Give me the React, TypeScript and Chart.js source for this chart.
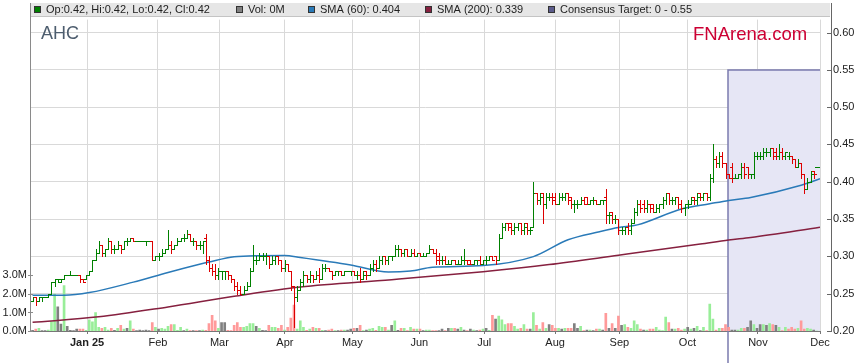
import React, { useEffect, useRef } from "react";
import { Chart, registerables } from "chart.js";

Chart.register(...registerables);

const FONT = "Arial, 'Liberation Sans', sans-serif";

// ---------- data ----------
const ticker = "AHC";
const monthLabels = ["Jan 25", "Feb", "Mar", "Apr", "May", "Jun", "Jul", "Aug", "Sep", "Oct", "Nov", "Dec"];
const monthTickIdx = [17.3, 39.8, 59.3, 80.1, 101.5, 122.8, 143.4, 165.9, 186.3, 207.9, 230.3, 250];
const priceTicks = [0.2, 0.25, 0.3, 0.35, 0.4, 0.45, 0.5, 0.55, 0.6];
const volumeTicks = [0, 1, 2, 3];

// [open, high, low, close] per trading day
const priceBars: number[][] = [
  [0.24,0.245,0.24,0.245],[0.245,0.245,0.235,0.24],[0.24,0.245,0.24,0.245],[0.245,0.245,0.24,0.245],[0.245,0.245,0.245,0.245],
  [0.245,0.25,0.245,0.25],[0.25,0.265,0.25,0.265],[0.265,0.27,0.26,0.27],[0.27,0.27,0.265,0.27],[0.265,0.27,0.265,0.27],
  [0.27,0.275,0.27,0.275],[0.275,0.275,0.275,0.275],[0.275,0.28,0.275,0.275],[0.275,0.275,0.275,0.275],[0.275,0.275,0.275,0.275],
  [0.275,0.275,0.265,0.27],[0.27,0.27,0.265,0.265],[0.27,0.275,0.27,0.275],[0.275,0.28,0.275,0.28],[0.28,0.295,0.28,0.295],
  [0.295,0.31,0.295,0.305],[0.305,0.32,0.305,0.315],[0.315,0.315,0.3,0.305],[0.305,0.31,0.3,0.31],[0.31,0.325,0.31,0.32],
  [0.32,0.32,0.305,0.31],[0.31,0.315,0.305,0.31],[0.31,0.32,0.31,0.315],[0.315,0.315,0.305,0.31],[0.31,0.32,0.31,0.32],
  [0.32,0.325,0.315,0.32],[0.32,0.325,0.32,0.325],[0.325,0.325,0.32,0.32],[0.32,0.32,0.32,0.32],[0.32,0.32,0.32,0.32],
  [0.32,0.32,0.32,0.32],[0.32,0.32,0.315,0.32],[0.32,0.32,0.32,0.32],[0.32,0.32,0.295,0.295],[0.295,0.3,0.295,0.3],
  [0.3,0.305,0.295,0.3],[0.3,0.31,0.3,0.305],[0.305,0.31,0.305,0.31],[0.31,0.335,0.31,0.315],[0.315,0.32,0.305,0.31],
  [0.31,0.315,0.31,0.315],[0.315,0.325,0.315,0.32],[0.32,0.325,0.32,0.325],[0.325,0.33,0.32,0.325],[0.325,0.335,0.325,0.33],
  [0.33,0.33,0.32,0.32],[0.32,0.325,0.315,0.32],[0.32,0.32,0.31,0.315],[0.315,0.32,0.31,0.315],[0.315,0.32,0.305,0.32],
  [0.325,0.33,0.29,0.295],[0.295,0.3,0.28,0.285],[0.285,0.29,0.275,0.28],[0.28,0.29,0.27,0.275],[0.275,0.285,0.27,0.28],
  [0.28,0.28,0.27,0.28],[0.28,0.28,0.27,0.28],[0.28,0.28,0.27,0.275],[0.275,0.275,0.265,0.27],[0.27,0.27,0.255,0.26],
  [0.26,0.265,0.25,0.255],[0.255,0.26,0.25,0.25],[0.25,0.26,0.25,0.255],[0.255,0.265,0.255,0.26],[0.26,0.285,0.26,0.28],
  [0.28,0.315,0.28,0.295],[0.295,0.3,0.29,0.295],[0.295,0.305,0.295,0.3],[0.3,0.305,0.295,0.3],[0.3,0.305,0.29,0.3],
  [0.3,0.3,0.285,0.29],[0.29,0.3,0.29,0.295],[0.295,0.3,0.29,0.3],[0.3,0.3,0.29,0.295],[0.295,0.295,0.28,0.285],
  [0.285,0.295,0.28,0.29],[0.29,0.29,0.28,0.28],[0.28,0.28,0.255,0.26],[0.26,0.26,0.205,0.245],[0.245,0.26,0.24,0.255],
  [0.255,0.27,0.255,0.265],[0.265,0.28,0.26,0.275],[0.275,0.275,0.265,0.27],[0.27,0.28,0.265,0.275],[0.275,0.275,0.265,0.27],
  [0.27,0.28,0.27,0.275],[0.275,0.285,0.265,0.27],[0.27,0.29,0.27,0.285],[0.285,0.29,0.28,0.285],[0.285,0.285,0.28,0.28],
  [0.28,0.28,0.27,0.275],[0.275,0.28,0.275,0.28],[0.28,0.28,0.275,0.28],[0.28,0.28,0.275,0.275],[0.275,0.28,0.275,0.28],
  [0.28,0.28,0.28,0.28],[0.28,0.28,0.275,0.28],[0.28,0.28,0.275,0.275],[0.275,0.28,0.27,0.275],[0.275,0.285,0.265,0.27],
  [0.27,0.28,0.27,0.275],[0.28,0.28,0.27,0.275],[0.275,0.29,0.275,0.285],[0.285,0.295,0.28,0.29],[0.29,0.295,0.28,0.285],
  [0.285,0.3,0.285,0.295],[0.295,0.3,0.29,0.3],[0.3,0.3,0.29,0.295],[0.295,0.3,0.29,0.3],[0.3,0.3,0.295,0.3],
  [0.3,0.315,0.3,0.31],[0.31,0.315,0.3,0.31],[0.31,0.31,0.3,0.305],[0.305,0.31,0.3,0.31],[0.31,0.31,0.3,0.3],
  [0.3,0.31,0.3,0.305],[0.305,0.31,0.3,0.3],[0.3,0.305,0.3,0.305],[0.305,0.305,0.3,0.3],[0.3,0.305,0.3,0.3],
  [0.3,0.305,0.3,0.305],[0.305,0.315,0.305,0.31],[0.31,0.31,0.305,0.305],[0.305,0.31,0.29,0.295],[0.3,0.305,0.29,0.295],
  [0.295,0.3,0.29,0.295],[0.295,0.3,0.29,0.29],[0.29,0.295,0.29,0.29],[0.29,0.295,0.29,0.295],[0.295,0.295,0.29,0.29],
  [0.29,0.295,0.29,0.29],[0.29,0.3,0.29,0.295],[0.295,0.31,0.29,0.295],[0.295,0.295,0.29,0.29],[0.295,0.295,0.29,0.29],
  [0.29,0.295,0.29,0.295],[0.295,0.295,0.29,0.295],[0.295,0.3,0.29,0.29],[0.29,0.295,0.29,0.295],[0.295,0.3,0.29,0.295],
  [0.295,0.3,0.295,0.3],[0.3,0.3,0.295,0.295],[0.3,0.3,0.29,0.295],[0.295,0.33,0.295,0.325],[0.325,0.345,0.325,0.34],
  [0.34,0.345,0.335,0.345],[0.345,0.345,0.335,0.34],[0.345,0.345,0.33,0.335],[0.335,0.345,0.33,0.34],[0.34,0.345,0.335,0.345],
  [0.345,0.345,0.33,0.335],[0.335,0.345,0.33,0.34],[0.345,0.345,0.33,0.335],[0.335,0.34,0.33,0.335],[0.34,0.4,0.34,0.385],
  [0.385,0.385,0.37,0.375],[0.375,0.385,0.37,0.38],[0.385,0.385,0.345,0.37],[0.37,0.385,0.365,0.38],[0.38,0.385,0.375,0.38],
  [0.38,0.385,0.37,0.375],[0.38,0.385,0.37,0.37],[0.37,0.385,0.37,0.38],[0.38,0.385,0.375,0.38],[0.38,0.385,0.375,0.385],
  [0.385,0.385,0.37,0.375],[0.38,0.38,0.365,0.37],[0.37,0.375,0.36,0.37],[0.37,0.375,0.365,0.37],[0.37,0.38,0.37,0.375],
  [0.375,0.38,0.37,0.37],[0.38,0.38,0.37,0.37],[0.37,0.375,0.37,0.375],[0.375,0.38,0.37,0.375],[0.375,0.375,0.37,0.37],
  [0.37,0.375,0.37,0.375],[0.375,0.375,0.37,0.375],[0.38,0.39,0.345,0.355],[0.355,0.36,0.345,0.355],[0.36,0.36,0.345,0.35],
  [0.35,0.355,0.345,0.35],[0.35,0.35,0.33,0.335],[0.335,0.34,0.33,0.335],[0.335,0.34,0.33,0.34],[0.34,0.345,0.33,0.335],
  [0.335,0.35,0.33,0.345],[0.345,0.365,0.345,0.36],[0.36,0.375,0.355,0.37],[0.37,0.375,0.36,0.365],[0.37,0.375,0.36,0.365],
  [0.365,0.375,0.36,0.37],[0.37,0.37,0.36,0.365],[0.37,0.37,0.36,0.36],[0.36,0.37,0.36,0.365],[0.365,0.37,0.36,0.37],
  [0.37,0.38,0.365,0.375],[0.375,0.385,0.37,0.385],[0.385,0.385,0.37,0.375],[0.375,0.38,0.37,0.375],[0.375,0.38,0.37,0.38],
  [0.38,0.38,0.365,0.37],[0.37,0.375,0.36,0.365],[0.365,0.37,0.355,0.37],[0.37,0.375,0.365,0.37],[0.37,0.38,0.37,0.375],
  [0.38,0.38,0.37,0.375],[0.375,0.385,0.37,0.38],[0.385,0.385,0.375,0.38],[0.38,0.385,0.375,0.385],[0.385,0.385,0.375,0.38],
  [0.38,0.41,0.375,0.405],[0.405,0.45,0.4,0.43],[0.43,0.435,0.42,0.425],[0.425,0.44,0.42,0.435],[0.435,0.44,0.42,0.425],
  [0.425,0.425,0.405,0.41],[0.41,0.41,0.405,0.405],[0.42,0.425,0.4,0.405],[0.405,0.41,0.405,0.405],[0.405,0.41,0.405,0.41],
  [0.41,0.425,0.405,0.42],[0.42,0.425,0.405,0.41],[0.42,0.42,0.405,0.41],[0.41,0.41,0.405,0.41],[0.41,0.44,0.405,0.435],
  [0.435,0.44,0.43,0.435],[0.435,0.44,0.43,0.435],[0.435,0.445,0.43,0.44],[0.44,0.445,0.435,0.44],[0.44,0.445,0.435,0.445],
  [0.445,0.445,0.43,0.435],[0.44,0.445,0.43,0.435],[0.435,0.45,0.43,0.44],[0.44,0.445,0.43,0.435],[0.435,0.44,0.43,0.44],
  [0.435,0.44,0.43,0.435],[0.435,0.435,0.425,0.43],[0.43,0.43,0.42,0.42],[0.42,0.43,0.42,0.425],[0.425,0.425,0.405,0.41],
  [0.41,0.41,0.385,0.39],[0.39,0.405,0.39,0.4],[0.4,0.415,0.4,0.41],[0.415,0.415,0.405,0.41],[0.42,0.42,0.42,0.42],
];

// daily volume, millions of shares
const volumes = [
  0.03,0.1,0.15,0.02,0.02,0.05,0.5,2.0,1.3,0.37,
  2.45,0.25,0.03,0.02,0.1,0.1,0.1,0.03,0.6,0.5,
  1.0,0.2,0.15,0.2,0.05,0.15,0.03,0.15,0.3,0.1,
  0.15,0.55,0.1,0.02,0.05,0.02,0.05,0.02,0.45,0.2,
  0.1,0.15,0.1,0.25,0.35,0.35,0.03,0.2,0.02,0.1,
  0.02,0.02,0.02,0.02,0.05,0.03,0.4,0.85,0.55,0.15,
  0.45,0.45,0.03,0.02,0.3,0.45,0.2,0.2,0.25,0.4,
  0.4,0.25,0.15,0.03,0.02,0.3,0.2,0.2,0.15,0.3,
  0.05,0.2,0.7,1.4,0.1,0.55,0.2,0.03,0.1,0.2,
  0.15,0.15,0.03,0.02,0.05,0.1,0.02,0.02,0.05,0.05,
  0.05,0.1,0.15,0.15,0.3,0.02,0.05,0.1,0.15,0.03,
  0.25,0.2,0.2,0.05,0.3,0.55,0.03,0.15,0.15,0.02,
  0.2,0.1,0.1,0.1,0.02,0.05,0.05,0.02,0.02,0.02,
  0.1,0.02,0.15,0.15,0.15,0.1,0.2,0.05,0.02,0.1,
  0.05,0.02,0.05,0.1,0.15,0.03,0.85,0.65,0.8,0.6,
  0.35,0.4,0.4,0.25,0.1,0.15,0.35,0.1,0.1,1.0,
  0.3,0.1,0.45,0.15,0.35,0.3,0.15,0.15,0.1,0.15,
  0.15,0.15,0.4,0.15,0.25,0.02,0.05,0.05,0.02,0.1,
  0.1,0.05,0.95,0.15,0.4,0.15,0.8,0.3,0.35,0.2,
  0.15,0.55,0.35,0.1,0.05,0.05,0.1,0.1,0.2,0.05,
  0.02,0.75,0.45,0.1,0.1,0.15,0.05,0.1,0.2,0.1,
  0.15,0.25,0.02,0.2,0.02,1.45,0.65,0.05,0.15,0.15,
  0.35,0.2,0.05,0.05,0.05,0.15,0.15,0.2,0.55,0.35,
  0.15,0.35,0.35,0.3,0.4,0.35,0.3,0.2,0.02,0.2,
  0.1,0.2,0.1,0.15,0.55,0.1,0.15,0.1,0.05,0,
];

const sma60Idx = [0, 10, 18, 32, 43, 53, 56, 64, 72, 80, 85, 101, 113, 120, 127, 143, 159, 170, 180, 186, 192, 206, 215, 221, 228, 244, 250];
const sma60Val = [0.248, 0.248, 0.2515, 0.2655, 0.2785, 0.2895, 0.2925, 0.2995, 0.301, 0.3012, 0.2985, 0.2885, 0.279, 0.2805, 0.2855, 0.2877, 0.2997, 0.3223, 0.333, 0.3386, 0.3422, 0.3635, 0.3705, 0.375, 0.379, 0.3953, 0.404];

const sma200Idx = [0, 21, 43, 64, 85, 114, 143, 164, 186, 212, 221, 228, 250];
const sma200Val = [0.2116, 0.219, 0.2323, 0.2465, 0.2589, 0.2687, 0.2795, 0.289, 0.3015, 0.3165, 0.3219, 0.3253, 0.339];

const consensusStartIdx = 220.8;
const consensusLow = 0;
const consensusHigh = 0.55;

// ---------- styling ----------
const UP = "#008000";
const DOWN = "#dd0000";
const VOL_UP = "#99ee99";
const VOL_DOWN = "#ff9a9a";
const VOL_FLAT = "#808080";
const SMA60_COLOR = "#2a7ab8";
const SMA200_COLOR = "#86203f";
const GRID = "#d9d9d9";

const volColors = volumes.map((_, i) => {
  if (i === 0) return VOL_FLAT;
  const c = priceBars[i][3];
  const p = priceBars[i - 1][3];
  return c > p ? VOL_UP : c < p ? VOL_DOWN : VOL_FLAT;
});

const fmt2 = (v: number) => v.toFixed(2);

const overlayPlugin = {
  id: "overlay",
  beforeDraw(chart: any) {
    const { ctx, width, height } = chart;
    ctx.save();
    ctx.fillStyle = "#ffffff";
    ctx.fillRect(0, 0, width, height);
    ctx.restore();
  },
  beforeDatasetsDraw(chart: any) {
    const { ctx, chartArea: a, scales } = chart;
    const xs = scales.x;
    const ys = scales.y;
    const x0 = Math.round(xs.getPixelForValue(consensusStartIdx));
    const yTop = Math.round(ys.getPixelForValue(consensusHigh));
    const yLow = ys.getPixelForValue(consensusLow);
    ctx.save();
    ctx.fillStyle = "#e6e6f5";
    ctx.fillRect(x0, yTop, a.right - x0, Math.min(yLow, a.bottom) - yTop);
    ctx.strokeStyle = "#7b7bae";
    ctx.lineWidth = 1.5;
    ctx.beginPath();
    ctx.moveTo(x0, Math.min(yLow, chart.height));
    ctx.lineTo(x0, yTop);
    ctx.lineTo(a.right, yTop);
    ctx.stroke();

    ctx.textAlign = "left";
    ctx.textBaseline = "alphabetic";
    ctx.font = `18px ${FONT}`;
    ctx.fillStyle = "#4d5d6e";
    ctx.fillText(ticker, 41, 39);
    ctx.font = `18.5px ${FONT}`;
    ctx.fillStyle = "#cc0033";
    ctx.fillText("FNArena.com", 693, 40);
    ctx.restore();
  },
  afterDatasetsDraw(chart: any) {
    const { ctx, chartArea: a, scales } = chart;
    const xs = scales.x;
    const ys = scales.y;
    ctx.save();
    ctx.beginPath();
    ctx.rect(a.left, a.top, a.right - a.left, a.bottom - a.top);
    ctx.clip();
    ctx.lineWidth = 1;
    priceBars.forEach(([o, h, l, c], i) => {
      const xi = Math.round(xs.getPixelForValue(i));
      const yh = Math.round(ys.getPixelForValue(h));
      const yl = Math.round(ys.getPixelForValue(l));
      const yo = Math.round(ys.getPixelForValue(o)) + 0.5;
      const yc = Math.round(ys.getPixelForValue(c)) + 0.5;
      ctx.strokeStyle = c < o ? DOWN : UP;
      ctx.beginPath();
      ctx.moveTo(xi + 0.5, yh);
      ctx.lineTo(xi + 0.5, yl + 1);
      ctx.moveTo(xi - 2, yo);
      ctx.lineTo(xi + 1, yo);
      ctx.moveTo(xi, yc);
      ctx.lineTo(xi + 3, yc);
      ctx.stroke();
    });
    ctx.restore();
  },
  afterDraw(chart: any) {
    const { ctx, chartArea: a, scales } = chart;
    const ys = scales.y;
    const vs = scales.vol;
    ctx.save();
    // legend bar
    ctx.fillStyle = "#e6e6e6";
    ctx.fillRect(31, 3, 799, 13);
    ctx.strokeStyle = "#c4c4c4";
    ctx.lineWidth = 1;
    ctx.beginPath();
    ctx.moveTo(31, 16.5);
    ctx.lineTo(830, 16.5);
    ctx.stroke();

    const last = priceBars[priceBars.length - 1];
    const items = [
      { color: UP, x: 34, text: `Op:${fmt2(last[0])}, Hi:${fmt2(last[1])}, Lo:${fmt2(last[2])}, Cl:${fmt2(last[3])}` },
      { color: VOL_FLAT, x: 236, text: `Vol: ${volumes[volumes.length - 1].toFixed(0)}M` },
      { color: SMA60_COLOR, x: 308, text: `SMA (60): ${sma60Val[sma60Val.length - 1].toFixed(3)}` },
      { color: SMA200_COLOR, x: 425, text: `SMA (200): ${sma200Val[sma200Val.length - 1].toFixed(3)}` },
      { color: "#5c5c8c", x: 548, text: `Consensus Target: ${consensusLow} - ${consensusHigh}` },
    ];
    ctx.font = `11px ${FONT}`;
    ctx.textBaseline = "middle";
    ctx.textAlign = "left";
    items.forEach((it) => {
      ctx.fillStyle = it.color;
      ctx.fillRect(it.x, 6, 7, 7);
      ctx.strokeStyle = "#333333";
      ctx.strokeRect(it.x + 0.5, 6.5, 6, 6);
      ctx.fillStyle = "#222222";
      ctx.fillText(it.text, it.x + 12, 10);
    });

    // left axis line + ticks
    ctx.strokeStyle = "#8a8a8a";
    ctx.beginPath();
    ctx.moveTo(30.5, 3);
    ctx.lineTo(30.5, a.bottom + 1);
    volumeTicks.forEach((v) => {
      const y = Math.round(vs.getPixelForValue(v)) + 0.5;
      ctx.moveTo(28, y);
      ctx.lineTo(33, y);
    });
    ctx.stroke();

    // right axis line + ticks
    ctx.strokeStyle = "#666666";
    ctx.beginPath();
    ctx.moveTo(831.5, 3);
    ctx.lineTo(831.5, a.bottom + 1);
    priceTicks.forEach((v) => {
      const y = Math.round(ys.getPixelForValue(v)) + 0.5;
      ctx.moveTo(827, y);
      ctx.lineTo(832, y);
    });
    ctx.stroke();
    ctx.restore();
  },
};

export default function App() {
  const ref = useRef<HTMLCanvasElement>(null);

  useEffect(() => {
    if (!ref.current) return;
    const chart = new Chart(ref.current, {
      type: "bar",
      data: {
        datasets: [
          {
            type: "line",
            label: "SMA (60)",
            data: sma60Idx.map((x, i) => ({ x, y: sma60Val[i] })),
            xAxisID: "x",
            yAxisID: "y",
            borderColor: SMA60_COLOR,
            borderWidth: 1.5,
            pointRadius: 0,
            cubicInterpolationMode: "monotone",
            order: 1,
          } as any,
          {
            type: "line",
            label: "SMA (200)",
            data: sma200Idx.map((x, i) => ({ x, y: sma200Val[i] })),
            xAxisID: "x",
            yAxisID: "y",
            borderColor: SMA200_COLOR,
            borderWidth: 1.5,
            pointRadius: 0,
            cubicInterpolationMode: "monotone",
            order: 2,
          } as any,
          {
            type: "bar",
            label: "Vol",
            data: volumes.map((v, i) => ({ x: i, y: v })),
            xAxisID: "x",
            yAxisID: "vol",
            backgroundColor: volColors,
            barThickness: 2,
            order: 4,
          } as any,
        ],
      },
      options: {
        responsive: true,
        maintainAspectRatio: false,
        animation: false,
        events: [],
        layout: { padding: { top: 17, left: 0, right: 0, bottom: 0 } },
        plugins: { legend: { display: false }, tooltip: { enabled: false } },
        scales: {
          x: {
            type: "linear",
            position: "bottom",
            min: -0.5,
            max: 250,
            offset: false,
            grid: { color: GRID, offset: false, drawTicks: true, tickLength: 3, tickColor: "#777777" },
            border: { display: true, color: "#777777" },
            afterBuildTicks: (scale: any) => {
              scale.ticks = monthTickIdx.map((v) => ({ value: v }));
            },
            afterFit: (scale: any) => {
              scale.height = 32;
            },
            ticks: {
              autoSkip: false,
              maxRotation: 0,
              padding: 2,
              color: "#222222",
              font: (ctx: any) => ({ family: FONT, size: 11, weight: ctx.index === 0 ? "bold" : "normal" }),
              callback: (_v: any, i: number) => monthLabels[i],
            },
          },
          y: {
            type: "linear",
            position: "right",
            min: 0.2,
            max: 0.6173,
            grid: { color: GRID, drawTicks: false },
            border: { display: false },
            afterBuildTicks: (scale: any) => {
              scale.ticks = priceTicks.map((v) => ({ value: v }));
            },
            afterFit: (scale: any) => {
              scale.width = 39;
            },
            ticks: {
              autoSkip: false,
              padding: 13,
              color: "#222222",
              font: { family: FONT, size: 11 },
              callback: (v: any) => Number(v).toFixed(2),
            },
          },
          vol: {
            type: "linear",
            position: "left",
            min: 0,
            max: 16.82,
            grid: { display: false, drawTicks: false },
            border: { display: false },
            afterBuildTicks: (scale: any) => {
              scale.ticks = volumeTicks.map((v) => ({ value: v }));
            },
            afterFit: (scale: any) => {
              scale.width = 31;
            },
            ticks: {
              autoSkip: false,
              padding: 4,
              color: "#222222",
              font: { family: FONT, size: 11 },
              callback: (v: any) => Number(v).toFixed(1) + "M",
            },
          },
        },
      } as any,
      plugins: [overlayPlugin],
    });
    return () => chart.destroy();
  }, []);

  return (
    <div style={{ position: "absolute", left: 0, top: 0, width: 859, height: 363, background: "#ffffff" }}>
      <canvas ref={ref} />
    </div>
  );
}
